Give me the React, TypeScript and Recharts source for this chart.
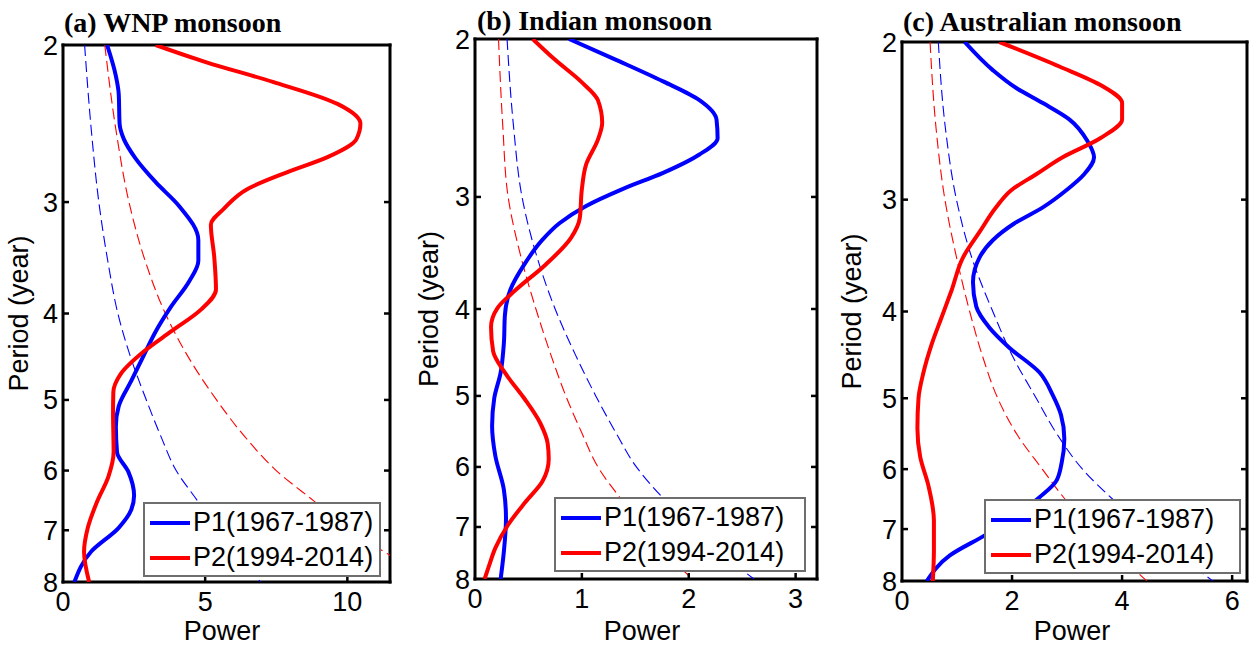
import { ScatterChart, Scatter, XAxis, YAxis, Legend } from 'recharts';

const SANS = '"Liberation Sans", Arial, sans-serif';
const SERIF = '"Liberation Serif", "Times New Roman", serif';
const H = 649;

const periodTicks = [2, 3, 4, 5, 6, 7, 8];
const sigPeriod = [2, 2.5, 3, 3.5, 4, 4.5, 5, 5.5, 6, 6.5, 7, 7.5, 8];

// (a) WNP monsoon
const wnpPowerTicks = [0, 5, 10];
const wnpP1Period = [2, 2.16, 2.27, 2.45, 2.55, 2.68, 2.85, 3.03, 3.31, 3.49, 3.68, 3.93, 4.19, 4.45, 4.76, 5.08, 5.35, 5.72, 6.02, 6.4, 6.64, 6.96, 7.39, 8];
const wnpP1Power = [1.55, 1.85, 1.96, 1.99, 2.14, 2.55, 3.26, 4.08, 4.76, 4.76, 4.44, 3.8, 3.26, 2.85, 2.4, 1.96, 1.86, 1.9, 2.3, 2.5, 2.4, 1.95, 1.0, 0.4];
const wnpP2Period = [2, 2.09, 2.2, 2.33, 2.45, 2.55, 2.67, 2.78, 2.9, 3.05, 3.18, 3.46, 3.76, 3.96, 4.19, 4.41, 4.68, 4.9, 5.18, 5.72, 6.09, 6.5, 6.96, 7.4, 8];
const wnpP2Power = [3.26, 5.02, 7.38, 9.67, 10.46, 10.32, 9.32, 7.85, 6.49, 5.67, 5.2, 5.32, 5.38, 4.85, 3.8, 2.85, 2.02, 1.77, 1.76, 1.78, 1.6, 1.2, 0.87, 0.74, 0.92];
const wnpSig1Power = [0.76, 1.0, 1.26, 1.58, 1.93, 2.4, 2.93, 3.45, 3.98, 4.75, 5.45, 6.2, 6.95];
const wnpSig2Power = [1.47, 1.87, 2.32, 2.9, 3.6, 4.45, 5.4, 6.4, 7.5, 8.85, 10.1, 11.6, 13.1];

// (b) Indian monsoon
const indPowerTicks = [0, 1, 2, 3];
const indP1Period = [2, 2.11, 2.23, 2.34, 2.46, 2.58, 2.69, 2.82, 2.94, 3.07, 3.21, 3.35, 3.57, 3.81, 4.06, 4.37, 4.71, 5.03, 5.4, 5.83, 6.36, 6.85, 7.46, 8];
const indP1Power = [0.88, 1.32, 1.76, 2.1, 2.26, 2.27, 2.1, 1.76, 1.38, 1.04, 0.79, 0.63, 0.46, 0.33, 0.28, 0.27, 0.24, 0.18, 0.16, 0.19, 0.27, 0.29, 0.27, 0.24];
const indP2Period = [2, 2.11, 2.23, 2.34, 2.48, 2.59, 2.76, 2.94, 3.17, 3.33, 3.57, 3.81, 3.99, 4.19, 4.46, 4.71, 5.03, 5.36, 5.65, 5.88, 6.23, 6.57, 6.96, 7.39, 7.74, 8];
const indP2Power = [0.54, 0.75, 0.99, 1.15, 1.19, 1.15, 1.04, 1.0, 0.98, 0.9, 0.66, 0.38, 0.21, 0.15, 0.17, 0.28, 0.46, 0.61, 0.68, 0.69, 0.63, 0.47, 0.31, 0.19, 0.13, 0.09];
const indSig1Power = [0.3, 0.36, 0.44, 0.58, 0.75, 0.94, 1.13, 1.32, 1.51, 1.76, 2.03, 2.31, 2.61];
const indSig2Power = [0.22, 0.26, 0.31, 0.43, 0.57, 0.71, 0.85, 1.0, 1.15, 1.36, 1.58, 1.8, 2.03];

// (c) Australian monsoon
const ausPowerTicks = [0, 2, 4, 6];
const ausP1Period = [2, 2.15, 2.25, 2.34, 2.44, 2.58, 2.69, 2.81, 2.93, 3.06, 3.19, 3.33, 3.48, 3.71, 3.95, 4.17, 4.39, 4.68, 4.96, 5.22, 5.55, 5.91, 6.19, 6.45, 7.1, 7.49, 8];
const ausP1Power = [1.14, 1.65, 2.07, 2.56, 3.04, 3.37, 3.49, 3.31, 2.98, 2.56, 2.04, 1.65, 1.41, 1.29, 1.35, 1.59, 1.95, 2.5, 2.74, 2.89, 2.95, 2.9, 2.8, 2.5, 1.53, 0.87, 0.45];
const ausP2Period = [2, 2.13, 2.24, 2.34, 2.44, 2.56, 2.69, 2.81, 2.93, 3.06, 3.26, 3.48, 3.79, 4.06, 4.35, 4.68, 5.0, 5.4, 5.81, 6.26, 6.85, 7.39, 8];
const ausP2Power = [1.77, 2.86, 3.64, 4.0, 4.0, 3.61, 2.92, 2.44, 1.98, 1.71, 1.41, 1.11, 0.9, 0.72, 0.54, 0.39, 0.3, 0.28, 0.33, 0.48, 0.58, 0.58, 0.56];
const ausSig1Power = [0.66, 0.79, 0.99, 1.28, 1.65, 2.02, 2.44, 2.83, 3.28, 3.85, 4.45, 5.05, 5.65];
const ausSig2Power = [0.51, 0.62, 0.78, 1.0, 1.23, 1.47, 1.74, 2.1, 2.55, 2.98, 3.45, 3.95, 4.45];

const P1_NAME = 'P1(1967-1987)';
const P2_NAME = 'P2(1994-2014)';

const toPoints = (t: number[], p: number[]) => t.map((v, i) => ({ t: v, p: p[i] }));

const makeSeries = (p1t: number[], p1: number[], p2t: number[], p2: number[], s1: number[], s2: number[]) => [
  { name: 'sig1', color: '#0000ff', dashed: true, data: toPoints(sigPeriod, s1) },
  { name: 'sig2', color: '#ff0000', dashed: true, data: toPoints(sigPeriod, s2) },
  { name: P1_NAME, color: '#0000ff', dashed: false, data: toPoints(p1t, p1) },
  { name: P2_NAME, color: '#ff0000', dashed: false, data: toPoints(p2t, p2) },
];

const panels = [
  {
    key: 'a', left: 0, width: 420, box: { l: 63, r: 390, t: 45, b: 582 }, xMax: 11.5, xTicks: wnpPowerTicks,
    title: '(a) WNP monsoon', titleX: 64, titleBase: 33, ylabX: 28, powerX: 222,
    legend: { x: 143, y: 502, w: 238, h: 75 },
    series: makeSeries(wnpP1Period, wnpP1Power, wnpP2Period, wnpP2Power, wnpSig1Power, wnpSig2Power),
  },
  {
    key: 'b', left: 410, width: 420, box: { l: 475, r: 817, t: 39, b: 579 }, xMax: 3.2, xTicks: indPowerTicks,
    title: '(b) Indian monsoon', titleX: 477, titleBase: 31, ylabX: 438, powerX: 642,
    legend: { x: 554, y: 497, w: 252, h: 75 },
    series: makeSeries(indP1Period, indP1Power, indP2Period, indP2Power, indSig1Power, indSig2Power),
  },
  {
    key: 'c', left: 830, width: 423, box: { l: 902, r: 1247, t: 42, b: 581 }, xMax: 6.27, xTicks: ausPowerTicks,
    title: '(c) Australian monsoon', titleX: 903, titleBase: 32, ylabX: 861, powerX: 1072,
    legend: { x: 984, y: 499, w: 257, h: 75 },
    series: makeSeries(ausP1Period, ausP1Power, ausP2Period, ausP2Power, ausSig1Power, ausSig2Power),
  },
];

const TICK_LEN = 6;

function LegendBox({ payload, w, h }: { payload?: any[]; w: number; h: number }) {
  const items = (payload ?? []).filter((e) => e.type !== 'none');
  return (
    <div
      style={{
        boxSizing: 'border-box', width: w, height: h, border: '2px solid #6e6e6e',
        background: '#fff', paddingTop: 1,
      }}
    >
      {items.map((entry) => (
        <div key={entry.value} style={{ display: 'flex', alignItems: 'center', height: 35 }}>
          <svg width={40} height={10} style={{ marginLeft: 5, marginRight: 3, flexShrink: 0 }}>
            <line x1={0} y1={5} x2={40} y2={5} stroke={entry.color} strokeWidth={4} />
          </svg>
          <span style={{ fontSize: 27, fontFamily: SANS, color: '#000', lineHeight: '35px', whiteSpace: 'nowrap' }}>
            {entry.value}
          </span>
        </div>
      ))}
    </div>
  );
}

function Panel({ cfg }: { cfg: (typeof panels)[number] }) {
  const { left, width, box, xMax, xTicks, legend } = cfg;
  const axisLine = { stroke: '#000', strokeWidth: 3, strokeLinecap: 'square' as const };
  const midY = (box.t + box.b) / 2;
  const bl = box.l - left;
  const br = box.r - left;
  const isEdgeX = (v: number) => v === 0;
  const isEdgeY = (v: number) => v === 2 || v === 8;

  // inward tick marks, MATLAB style
  const bottomTick = ({ x, payload }: any) => (
    <g>
      {!isEdgeX(payload.value) && (
        <line x1={x} x2={x} y1={box.b} y2={box.b - TICK_LEN} stroke="#000" strokeWidth={2.5} />
      )}
      <text x={x} y={box.b + 29} textAnchor="middle" fontSize={27} fill="#000" fontFamily={SANS}>
        {payload.value}
      </text>
    </g>
  );
  const topTick = ({ x, payload }: any) =>
    isEdgeX(payload.value) ? <g /> : (
      <line x1={x} x2={x} y1={box.t} y2={box.t + TICK_LEN} stroke="#000" strokeWidth={2.5} />
    );
  const leftTick = ({ y, payload }: any) => (
    <g>
      {!isEdgeY(payload.value) && (
        <line x1={bl} x2={bl + TICK_LEN} y1={y} y2={y} stroke="#000" strokeWidth={2.5} />
      )}
      <text x={bl - 5} y={y + 9.5} textAnchor="end" fontSize={27} fill="#000" fontFamily={SANS}>
        {payload.value}
      </text>
    </g>
  );
  const rightTick = ({ y, payload }: any) =>
    isEdgeY(payload.value) ? <g /> : (
      <line x1={br} x2={br - TICK_LEN} y1={y} y2={y} stroke="#000" strokeWidth={2.5} />
    );

  return (
    <div style={{ position: 'absolute', left, top: 0, width, height: H }}>
      <ScatterChart
        width={width}
        height={H}
        margin={{ top: box.t - 1, right: left + width - box.r - 1, bottom: 0, left: 0 }}
        style={{ fontFamily: SANS }}
      >
        <XAxis
          type="number"
          dataKey="p"
          domain={[0, xMax]}
          ticks={xTicks}
          interval={0}
          allowDataOverflow
          height={H - box.b}
          axisLine={axisLine}
          tickLine={false}
          tick={bottomTick}
          label={{
            content: () => (
              <text x={cfg.powerX - left} y={640} textAnchor="middle" fontSize={27} fill="#000" fontFamily={SANS}>
                Power
              </text>
            ),
          }}
        />
        <XAxis
          xAxisId="top"
          orientation="top"
          type="number"
          domain={[0, xMax]}
          ticks={xTicks}
          interval={0}
          allowDataOverflow
          height={1}
          axisLine={axisLine}
          tickLine={false}
          tick={topTick}
        />
        <YAxis
          type="number"
          dataKey="t"
          scale="log"
          domain={[2, 8]}
          ticks={periodTicks}
          interval={0}
          reversed
          allowDataOverflow
          width={box.l - left}
          axisLine={axisLine}
          tickLine={false}
          tick={leftTick}
          label={{
            content: () => (
              <text
                x={cfg.ylabX - left}
                y={midY}
                transform={`rotate(-90, ${cfg.ylabX - left}, ${midY})`}
                textAnchor="middle"
                fontSize={27}
                fill="#000"
                fontFamily={SANS}
              >
                Period (year)
              </text>
            ),
          }}
        />
        <YAxis
          yAxisId="right"
          orientation="right"
          type="number"
          scale="log"
          domain={[2, 8]}
          ticks={periodTicks}
          interval={0}
          reversed
          allowDataOverflow
          width={1}
          axisLine={axisLine}
          tickLine={false}
          tick={rightTick}
        />
        {cfg.series.map((s) => (
          <Scatter
            key={s.name}
            name={s.name}
            data={s.data}
            fill={s.color}
            line={{
              stroke: s.color,
              strokeWidth: s.dashed ? 1.1 : 4,
              strokeDasharray: s.dashed ? '11 5' : undefined,
              strokeLinejoin: 'round',
            }}
            lineType="joint"
            lineJointType="monotoneY"
            shape={() => null}
            legendType={s.dashed ? 'none' : 'plainline'}
            isAnimationActive={false}
          />
        ))}
        <Legend
          layout="vertical"
          align="center"
          verticalAlign="middle"
          wrapperStyle={{ left: legend.x - left, top: legend.y, width: legend.w, height: legend.h }}
          content={(props: any) => <LegendBox payload={props.payload} w={legend.w} h={legend.h} />}
        />
      </ScatterChart>
      <div
        style={{
          position: 'absolute', left: cfg.titleX - left, top: cfg.titleBase - 24, fontFamily: SERIF,
          fontWeight: 'bold', fontSize: 28, lineHeight: '28px', whiteSpace: 'nowrap', color: '#000',
        }}
      >
        {cfg.title}
      </div>
    </div>
  );
}

export default function App() {
  return (
    <div style={{ position: 'absolute', left: 0, top: 0, width: 1253, height: H, background: '#fff', overflow: 'hidden' }}>
      {panels.map((cfg) => (
        <Panel key={cfg.key} cfg={cfg} />
      ))}
    </div>
  );
}
